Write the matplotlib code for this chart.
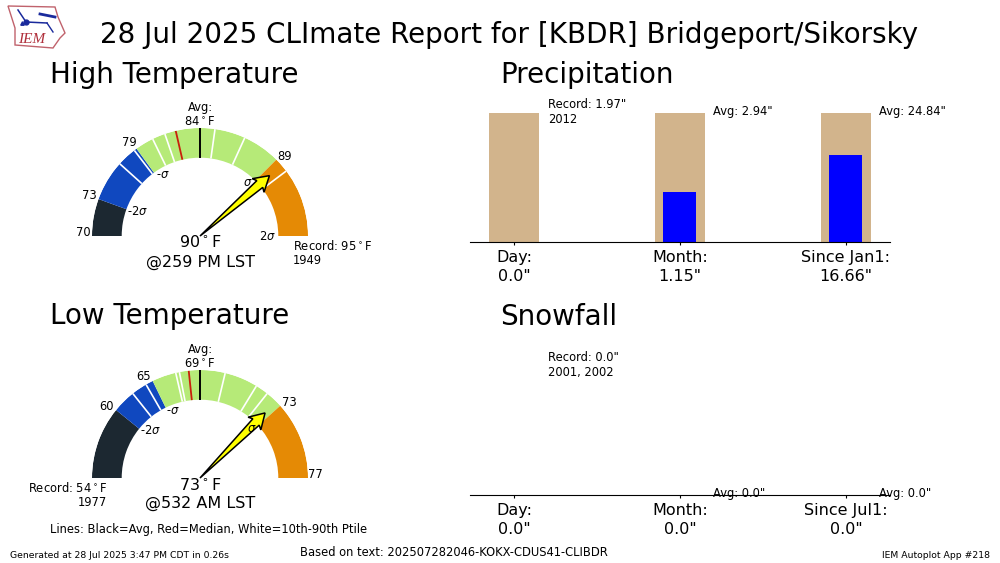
"""CLImate report chart: two temperature gauges and two precip style bar panels."""
import numpy as np
import matplotlib

matplotlib.use("Agg")
import matplotlib.pyplot as plt
from matplotlib.patches import Polygon

W, H = 1000, 563

band_colors = ["#1c2831", "#1048bf", "#b6ea78", "#e58a05"]

# gauge angles in degrees (180 = left end, 0 = right end)
high_band_edges = [180, 160, 126, 45, 0]
high_white_lines = [138, 127.5, 116, 109, 82, 65.5, 37]
high_median = 103
high_avg = 90
high_arrow = 41
low_band_edges = [180, 141, 116, 42, 0]
low_white_lines = [128.5, 120, 103, 101, 76.5, 58.5, 51.5]
low_median = 96
low_avg = 90
low_arrow = 45

bar_labels = ["Day:", "Month:", "Since Jan1:"]
snow_labels = ["Day:", "Month:", "Since Jul1:"]
precip_obs = [0.0, 1.15, 16.66]
precip_avg = [1.97, 2.94, 24.84]
snow_obs = [0.0, 0.0, 0.0]
snow_avg = [0.0, 0.0, 0.0]


def px_text(fig, x, y, s, size=8.3, ha="center", va="center", **kw):
    return fig.text(x / W, 1 - y / H, s, fontsize=size, ha=ha, va=va, **kw)


def gauge(fig, cx, cy, edges, whites, median, avg, arrow):
    rpx = 108
    ax = fig.add_axes(
        [(cx - rpx) / W, 1 - (cy + rpx) / H, 2 * rpx / W, 2 * rpx / H],
        projection="polar",
    )
    ax.set_rlim(0, 1)
    ax.axis("off")
    inner = 0.725
    for i, color in enumerate(band_colors):
        a0 = np.radians(edges[i + 1])
        a1 = np.radians(edges[i])
        ax.bar((a0 + a1) / 2, 1 - inner, width=a1 - a0, bottom=inner, color=color,
               linewidth=0, zorder=2)
    for deg_ in whites:
        ax.plot([np.radians(deg_)] * 2, [inner, 1], color="white", lw=1.2, zorder=3,
                solid_capstyle="butt")
    ax.plot([np.radians(median)] * 2, [inner, 1], color="#c8200c", lw=1.3, zorder=3,
            solid_capstyle="butt")
    ax.plot([np.radians(avg)] * 2, [inner, 1], color="black", lw=1.4, zorder=3,
            solid_capstyle="butt")

    # tapered arrow, built along the needle direction in axes fractions
    t = np.radians(arrow)
    u = np.array([np.cos(t), np.sin(t)])
    p = np.array([-u[1], u[0]])
    length = 92 / 216
    head = 15 / 216
    barb = 9 / 216
    neck = 4.5 / 216
    c = np.array([0.5, 0.5])
    base = c + u * (length - head * 0.85)
    pts = [c, base - p * neck, c + u * (length - head) - p * barb, c + u * length,
           c + u * (length - head) + p * barb, base + p * neck]
    ax.add_patch(Polygon(pts, closed=True, transform=ax.transAxes, fc="yellow", ec="black",
                         lw=1.1, zorder=5, clip_on=False))


def bars_panel(fig, base_y, labels, obs, avg, show_bars):
    ax = fig.add_axes([470 / W, 1 - base_y / H, 420 / W, 142 / H])
    x = np.arange(3)
    if show_bars:
        ax.bar(x, [1, 1, 1], width=50 / 166, color="tan")
        ax.bar(x, np.array(obs) / np.array(avg), width=33 / 166, color="blue")
    ax.set_xlim(-44 / 166, 2 + 44 / 166)
    ax.set_ylim(0, 142 / 129)
    ax.set_yticks([])
    ax.set_xticks(x)
    ax.set_xticklabels([f'{lab}\n{v}"' for lab, v in zip(labels, obs)], fontsize=11.5,
                       linespacing=1.3)
    ax.tick_params(axis="x", pad=3.5, length=2.5)
    for side in ("top", "left", "right"):
        ax.spines[side].set_visible(False)
    ax.patch.set_alpha(0)
    return ax


fig = plt.figure(figsize=(W / 100, H / 100), dpi=100)

# logo
logo = fig.add_axes([0, 1 - 50 / H, 70 / W, 50 / H])
logo.set_xlim(0, 70)
logo.set_ylim(50, 0)
logo.axis("off")
logo.add_patch(Polygon(
    [(8, 6), (55, 7), (58, 17), (65, 33), (60, 38), (53, 48), (15, 45), (15, 28)],
    closed=True, fc="white", ec="#c0626c", lw=1,
))
logo.plot([18, 26, 47], [10, 22, 23], color="#1a2a9c", lw=1.1)
logo.plot([26], [22], "o", color="#1a2a9c", ms=3.5)
logo.plot([22], [23], "^", color="#1a2a9c", ms=2.5)
logo.plot([40, 55], [14, 17], color="#1a2a9c", lw=2)
logo.plot([47, 53], [23, 32], color="#1a2a9c", lw=1)
logo.text(18, 43, "IEM", color="#b0303c", fontsize=11, family="Liberation Serif",
          style="italic")

px_text(fig, 509, 35, "28 Jul 2025 CLImate Report for [KBDR] Bridgeport/Sikorsky", size=20)
px_text(fig, 50, 75, "High Temperature", size=20, ha="left")
px_text(fig, 500, 75, "Precipitation", size=20, ha="left")
px_text(fig, 50, 316, "Low Temperature", size=20, ha="left")
px_text(fig, 500, 317, "Snowfall", size=20, ha="left")

# gauges
gauge(fig, 200, 236, high_band_edges, high_white_lines, high_median, high_avg, high_arrow)
gauge(fig, 200, 478, low_band_edges, low_white_lines, low_median, low_avg, low_arrow)

deg = r"$^\circ$"
sig = r"$\sigma$"
for x, y, s in [(83, 233, "70"), (89, 196, "73"), (129, 143, "79"), (284, 156, "89"),
                (163, 174, "-" + sig), (138, 211, "-2" + sig), (248, 182, sig),
                (267, 236, "2" + sig),
                (107, 407, "60"), (144, 377, "65"), (289, 402, "73"), (315, 474, "77"),
                (173, 410, "-" + sig), (151, 431, "-2" + sig), (252, 428, sig)]:
    px_text(fig, x, y, s, zorder=10)

px_text(fig, 200, 115, f"Avg:\n84{deg}F")
px_text(fig, 200, 357, f"Avg:\n69{deg}F")
px_text(fig, 200, 242, f"90{deg}F", size=11.5)
px_text(fig, 200, 262, "@259 PM LST", size=11.5)
px_text(fig, 200, 485, f"73{deg}F", size=11.5)
px_text(fig, 200, 503, "@532 AM LST", size=11.5)
px_text(fig, 293, 253, f"Record: 95{deg}F\n1949", ha="left", multialignment="left")
px_text(fig, 107, 495, f"Record: 54{deg}F\n1977", ha="right", multialignment="right")

# bar panels
bars_panel(fig, 242, bar_labels, precip_obs, precip_avg, True)
bars_panel(fig, 495, snow_labels, snow_obs, snow_avg, False)

px_text(fig, 548, 112, 'Record: 1.97"\n2012', ha="left", multialignment="left")
px_text(fig, 713, 112, 'Avg: 2.94"', ha="left")
px_text(fig, 879, 112, 'Avg: 24.84"', ha="left")
px_text(fig, 548, 365, 'Record: 0.0"\n2001, 2002', ha="left", multialignment="left")
px_text(fig, 713, 494, 'Avg: 0.0"', ha="left")
px_text(fig, 879, 494, 'Avg: 0.0"', ha="left")

# footers
px_text(fig, 50, 530, "Lines: Black=Avg, Red=Median, White=10th-90th Ptile", ha="left")
px_text(fig, 10, 555, "Generated at 28 Jul 2025 3:47 PM CDT in 0.26s", size=6.65, ha="left")
px_text(fig, 300, 553, "Based on text: 202507282046-KOKX-CDUS41-CLIBDR", ha="left")
px_text(fig, 990, 555, "IEM Autoplot App #218", size=6.65, ha="right")

fig.savefig("out.png", dpi=100)
plt.close(fig)
